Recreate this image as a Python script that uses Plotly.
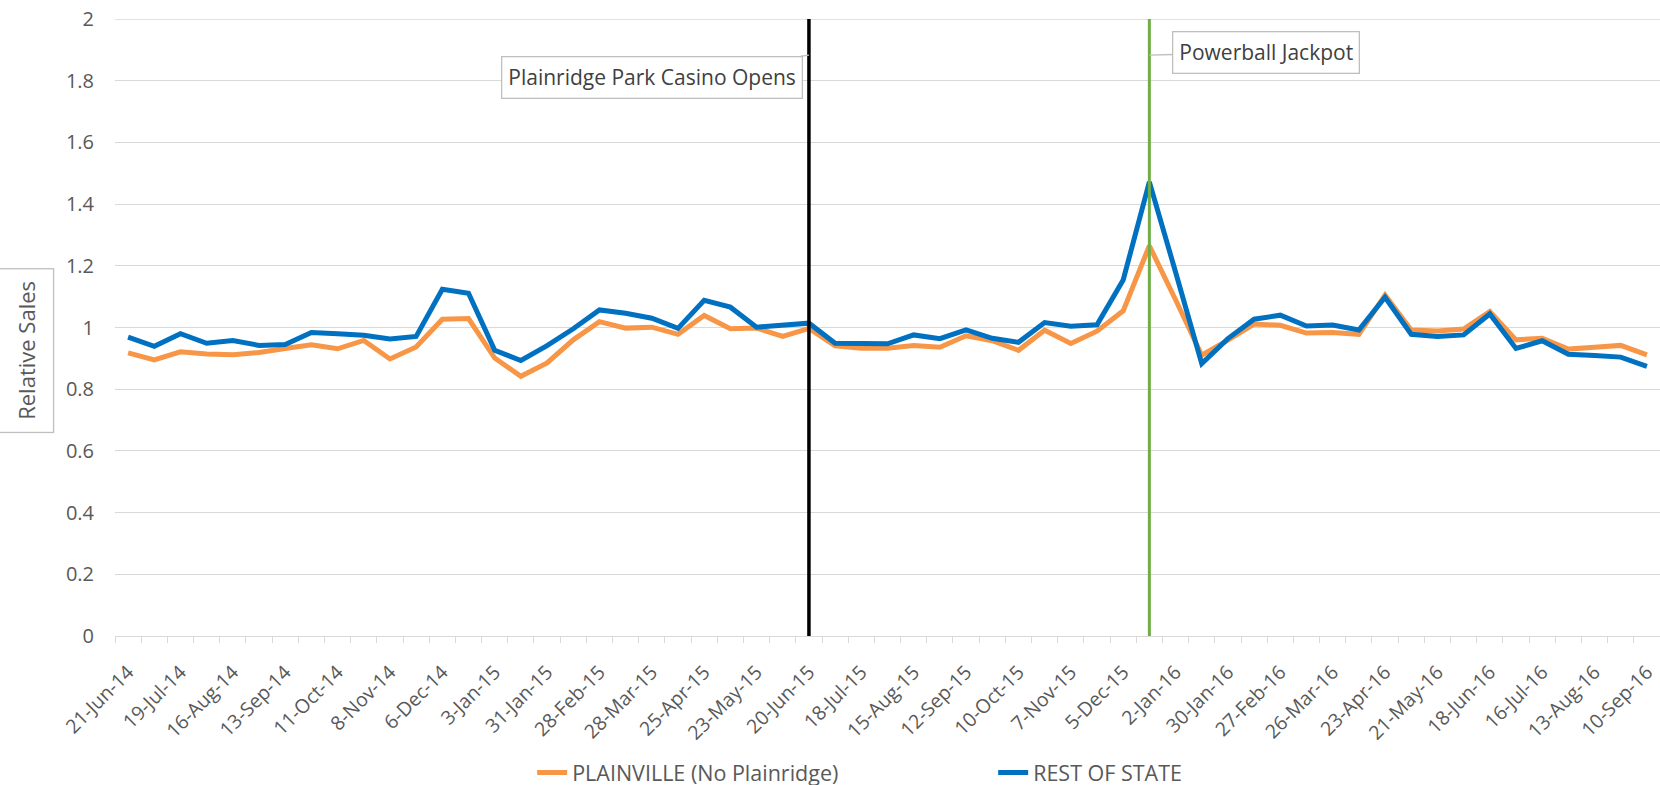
import plotly.graph_objects as go

# ---------------- data ----------------
dates = [
    "21-Jun-14", "5-Jul-14", "19-Jul-14", "2-Aug-14", "16-Aug-14", "30-Aug-14",
    "13-Sep-14", "27-Sep-14", "11-Oct-14", "25-Oct-14", "8-Nov-14", "22-Nov-14",
    "6-Dec-14", "20-Dec-14", "3-Jan-15", "17-Jan-15", "31-Jan-15", "14-Feb-15",
    "28-Feb-15", "14-Mar-15", "28-Mar-15", "11-Apr-15", "25-Apr-15", "9-May-15",
    "23-May-15", "6-Jun-15", "20-Jun-15", "4-Jul-15", "18-Jul-15", "1-Aug-15",
    "15-Aug-15", "29-Aug-15", "12-Sep-15", "26-Sep-15", "10-Oct-15", "24-Oct-15",
    "7-Nov-15", "21-Nov-15", "5-Dec-15", "19-Dec-15", "2-Jan-16", "16-Jan-16",
    "30-Jan-16", "13-Feb-16", "27-Feb-16", "12-Mar-16", "26-Mar-16", "9-Apr-16",
    "23-Apr-16", "7-May-16", "21-May-16", "4-Jun-16", "18-Jun-16", "2-Jul-16",
    "16-Jul-16", "30-Jul-16", "13-Aug-16", "27-Aug-16", "10-Sep-16",
]

# labels shown on the axis (every other category)
tick_labels = [
    "21-Jun-14", "19-Jul-14", "16-Aug-14", "13-Sep-14", "11-Oct-14", "8-Nov-14",
    "6-Dec-14", "3-Jan-15", "31-Jan-15", "28-Feb-15", "28-Mar-15", "25-Apr-15",
    "23-May-15", "20-Jun-15", "18-Jul-15", "15-Aug-15", "12-Sep-15", "10-Oct-15",
    "7-Nov-15", "5-Dec-15", "2-Jan-16", "30-Jan-16", "27-Feb-16", "26-Mar-16",
    "23-Apr-16", "21-May-16", "18-Jun-16", "16-Jul-16", "13-Aug-16", "10-Sep-16",
]

plainville = [
    0.918, 0.895, 0.921, 0.914, 0.912, 0.919, 0.932, 0.944, 0.931, 0.958,
    0.898, 0.937, 1.027, 1.029, 0.901, 0.842, 0.885, 0.960, 1.019, 0.998,
    1.001, 0.978, 1.039, 0.996, 0.998, 0.971, 0.997, 0.941, 0.933, 0.933,
    0.942, 0.936, 0.973, 0.957, 0.926, 0.991, 0.948, 0.988, 1.054, 1.265,
    1.090, 0.910, 0.959, 1.011, 1.007, 0.982, 0.984, 0.978, 1.105, 0.992,
    0.989, 0.995, 1.052, 0.960, 0.965, 0.930, 0.936, 0.942, 0.911,
]

rest_of_state = [
    0.969, 0.939, 0.980, 0.949, 0.958, 0.942, 0.945, 0.984, 0.980, 0.975,
    0.963, 0.971, 1.124, 1.111, 0.926, 0.893, 0.941, 0.996, 1.057, 1.046,
    1.030, 0.997, 1.088, 1.066, 1.001, 1.008, 1.014, 0.949, 0.949, 0.947,
    0.976, 0.964, 0.992, 0.965, 0.952, 1.016, 1.004, 1.009, 1.154, 1.472,
    1.180, 0.883, 0.964, 1.027, 1.040, 1.005, 1.008, 0.992, 1.098, 0.978,
    0.971, 0.976, 1.044, 0.932, 0.957, 0.913, 0.909, 0.904, 0.874,
]

series_names = ["PLAINVILLE (No Plainridge)", "REST OF STATE"]
event_dates = ["20-Jun-15", "19-Dec-15"]
event_labels = ["Plainridge Park Casino Opens", "Powerball Jackpot"]
y_title = "Relative Sales"
y_min, y_max, y_step = 0, 2, 0.2

# ---------------- figure ----------------
FONT = "Open Sans, Segoe UI, DejaVu Sans, sans-serif"
GRAY_TXT = "#595959"
GRID = "#d9d9d9"

fig = go.Figure()
fig.add_trace(go.Scatter(x=dates, y=plainville, mode="lines", name=series_names[0],
                         line=dict(color="#F79646", width=5)))
fig.add_trace(go.Scatter(x=dates, y=rest_of_state, mode="lines", name=series_names[1],
                         line=dict(color="#0070C0", width=5)))

# top gridline (plotly drops grid lines sitting exactly on the plot edge)
fig.add_shape(type="line", xref="paper", yref="y", x0=0, x1=1, y0=y_max, y1=y_max,
              line=dict(color=GRID, width=1.3), layer="below")

# event lines
fig.add_shape(type="line", xref="x", yref="y", x0=event_dates[0], x1=event_dates[0],
              y0=y_min, y1=y_max, line=dict(color="black", width=3.5), layer="above")
fig.add_shape(type="line", xref="x", yref="y", x0=event_dates[1], x1=event_dates[1],
              y0=y_min, y1=y_max, line=dict(color="#70AD47", width=3), layer="above")

# callouts
fig.add_annotation(x=event_dates[0], y=1.883, xref="x", yref="y",
                   text=event_labels[0], showarrow=True, arrowhead=0, arrowwidth=1.3,
                   arrowcolor="#bfbfbf", ax=-157, ay=22,
                   bordercolor="#bfbfbf", borderwidth=1.3, borderpad=6, bgcolor="white",
                   font=dict(family=FONT, size=21, color="#404040"))
fig.add_annotation(x=event_dates[1], y=1.883, xref="x", yref="y",
                   text=event_labels[1], showarrow=True, arrowhead=0, arrowwidth=1.3,
                   arrowcolor="#bfbfbf", ax=117, ay=-3,
                   bordercolor="#bfbfbf", borderwidth=1.3, borderpad=6, bgcolor="white",
                   font=dict(family=FONT, size=21, color="#404040"))

# y axis title box
fig.add_annotation(x=-0.0575, y=0.462, xref="paper", yref="paper",
                   xanchor="center", yanchor="middle",
                   text=y_title, textangle=-90, showarrow=False,
                   bordercolor="#bfbfbf", borderwidth=1.3, borderpad=12, bgcolor="white",
                   font=dict(family=FONT, size=22, color=GRAY_TXT))

tickvals = dates
ticktext = [d if d in tick_labels else "" for d in dates]

fig.update_layout(
    width=1660, height=793,
    margin=dict(l=115, r=0, t=19, b=157),
    paper_bgcolor="white", plot_bgcolor="white",
    font=dict(family=FONT, size=19, color=GRAY_TXT),
    showlegend=True,
    legend=dict(orientation="h", x=0.270, xanchor="left", y=-0.222, yanchor="middle",
                entrywidth=416, entrywidthmode="pixels",
                font=dict(family=FONT, size=21.5, color=GRAY_TXT), itemwidth=30),
    xaxis=dict(type="category", tickmode="array", tickvals=tickvals, ticktext=ticktext,
               tickangle=-45, tickson="boundaries", ticks="outside", ticklen=6,
               tickcolor=GRID, tickwidth=1.3, showline=True, linecolor=GRID, linewidth=1.3,
               showgrid=False, ticklabelstandoff=16, automargin=False,
               tickfont=dict(family=FONT, size=19.5, color=GRAY_TXT),
               range=[-0.5, len(dates) - 0.5]),
    yaxis=dict(range=[y_min, y_max], dtick=y_step, tick0=y_min, showgrid=True, gridcolor=GRID,
               gridwidth=1.3, zeroline=False, showline=False, ticks="",
               ticklabelstandoff=20, automargin=False, ticklabeloverflow="allow",
               tickfont=dict(family=FONT, size=20, color=GRAY_TXT)),
)

fig.write_html("out.html", config={"displayModeBar": False},
               post_script="document.body.style.margin='0';document.body.style.overflow='hidden';")
